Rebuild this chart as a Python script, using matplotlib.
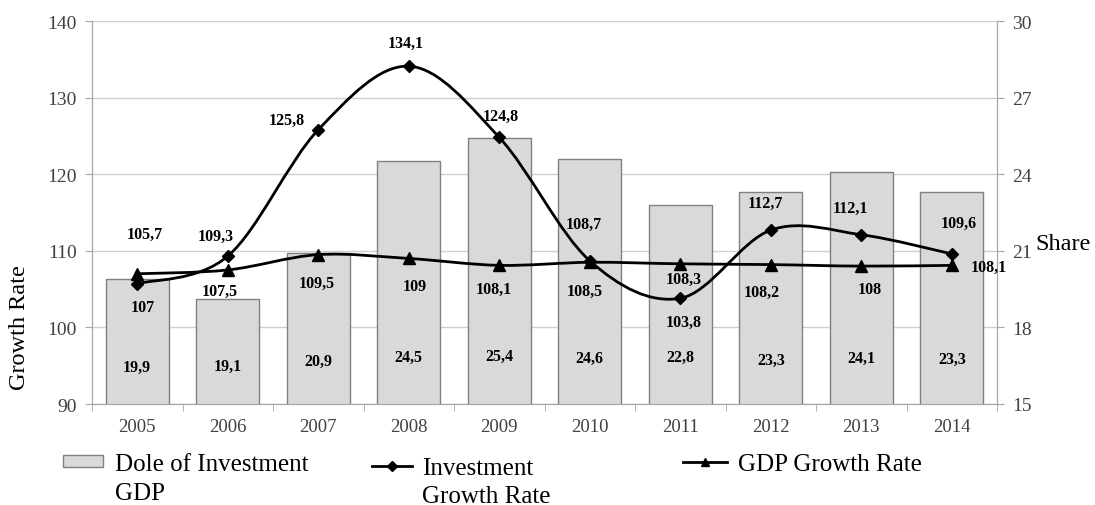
import matplotlib
matplotlib.use("Agg")
import matplotlib.pyplot as plt
from matplotlib.path import Path
from matplotlib.patches import PathPatch, Patch
from matplotlib.lines import Line2D
import numpy as np

years = ["2005", "2006", "2007", "2008", "2009", "2010", "2011", "2012", "2013", "2014"]
share = [19.9, 19.1, 20.9, 24.5, 25.4, 24.6, 22.8, 23.3, 24.1, 23.3]
invest = [105.7, 109.3, 125.8, 134.1, 124.8, 108.7, 103.8, 112.7, 112.1, 109.6]
gdp = [107.0, 107.5, 109.5, 109.0, 108.1, 108.5, 108.3, 108.2, 108.0, 108.1]

left_ticks = [90, 100, 110, 120, 130, 140]
right_ticks = [15, 18, 21, 24, 27, 30]

# label offsets in pixels (style only)
inv_off = [(8, 50), (-12, 20), (-31, 10), (-3, 23), (1, 22), (-6, 37), (3, -24), (-5, 27), (-11, 27), (7, 31)]
gdp_off = [(6, -33), (-8, -21), (-2, -28), (6, -28), (-5, -24), (-5, -29), (3, -15), (-9, -27), (8, -23), (37, -2)]
bar_lbl_off = [37, 38, 43, 47, 48, 46, 47, 44, 46, 45]

plt.rcParams['font.family'] = ['Liberation Serif', 'DejaVu Serif']

W, H = 1095, 506
fig = plt.figure(figsize=(W / 100, H / 100), dpi=100)
ax = fig.add_axes([92 / W, 1 - 405 / H, 905 / W, 383 / H])
axs = ax.twinx()
ax.set_zorder(axs.get_zorder() + 1)
ax.patch.set_visible(False)

x = np.arange(len(years))

# bars on share axis
axs.bar(x, share, width=0.7, color='#d9d9d9', edgecolor='#808080', linewidth=1.0, zorder=2)
axs.set_ylim(15, 30)
axs.set_yticks(right_ticks)
axs.set_yticklabels([str(t) for t in right_ticks])
axs.grid(axis='y', color='#cfcfcf', linewidth=1.0, zorder=0)
axs.set_axisbelow(True)


def smooth_path(xs, ys):
    pts = np.column_stack([xs, ys]).astype(float)
    n = len(pts)
    verts = [pts[0]]
    codes = [Path.MOVETO]
    for i in range(n - 1):
        p0 = pts[i - 1] if i > 0 else pts[i]
        p1 = pts[i]
        p2 = pts[i + 1]
        p3 = pts[i + 2] if i + 2 < n else pts[i + 1]
        c1 = p1 + (p2 - p0) / 6.0
        c2 = p2 - (p3 - p1) / 6.0
        verts += [c1, c2, p2]
        codes += [Path.CURVE4] * 3
    return Path(verts, codes)


ax.add_patch(PathPatch(smooth_path(x, invest), fill=False, edgecolor='black', linewidth=2.0, zorder=3))
ax.add_patch(PathPatch(smooth_path(x, gdp), fill=False, edgecolor='black', linewidth=2.0, zorder=3))
ax.plot(x, invest, linestyle='none', marker='D', markersize=6, color='black', zorder=4)
ax.plot(x, gdp, linestyle='none', marker='^', markersize=8, color='black', zorder=4)

ax.set_ylim(90, 140)
ax.set_xlim(-0.5, len(years) - 0.5)
ax.set_yticks(left_ticks)
ax.set_yticklabels([str(t) for t in left_ticks])
ax.set_xticks(x)
ax.set_xticklabels(years)
ax.set_xticks(np.arange(len(years) + 1) - 0.5, minor=True)


def fmt(v):
    s = ('%.1f' % v)
    if s.endswith('.0'):
        s = s[:-2]
    return s.replace('.', ',')


lbl = dict(ha='center', va='center', fontsize=11.5, fontweight='bold', zorder=5, textcoords='offset pixels')
for i in range(len(years)):
    ax.annotate(fmt(invest[i]), (x[i], invest[i]), xytext=inv_off[i], **lbl)
    ax.annotate(fmt(gdp[i]), (x[i], gdp[i]), xytext=gdp_off[i], **lbl)
    ax.annotate(fmt(share[i]), (x[i], 90), xytext=(0, bar_lbl_off[i]), **lbl)

for a in (ax, axs):
    for s in a.spines.values():
        s.set_color('#a6a6a6')
    a.spines['top'].set_visible(False)

ax.tick_params(axis='x', which='major', length=0, pad=10, labelsize=13.5, labelcolor='#404040')
ax.tick_params(axis='x', which='minor', length=5, color='#a6a6a6')
ax.tick_params(axis='y', length=5, color='#a6a6a6', labelsize=14, labelcolor='#404040', pad=6)
axs.tick_params(axis='y', length=5, color='#a6a6a6', labelsize=14, labelcolor='#404040', pad=6)

fig.text(20 / W, 1 - 328 / H, 'Growth Rate', rotation=90, ha='center', va='center', fontsize=17.5)
fig.text(1035 / W, 1 - 245 / H, 'Share', ha='left', va='center', fontsize=17.5)

# legend (first lines in legend entries, second lines as continuation text)
h1 = Patch(facecolor='#d9d9d9', edgecolor='#808080')
h2 = Line2D([], [], color='black', linewidth=2, marker='D', markersize=5)
h3 = Line2D([], [], color='black', linewidth=2, marker='^', markersize=6)
common = dict(frameon=False, fontsize=18, loc='center left', borderpad=0, borderaxespad=0)
fig.legend([h1], ['Dole of Investment'], bbox_to_anchor=(63 / W, 1 - 465 / H),
           handlelength=1.6, handleheight=0.4, handletextpad=0.48, **common)
fig.text(115 / W, 1 - 500 / H, 'GDP', ha='left', va='baseline', fontsize=18)
fig.legend([h2], ['Investment'], bbox_to_anchor=(372 / W, 1 - 469 / H),
           handlelength=1.6, handletextpad=0.4, **common)
fig.text(422 / W, 1 - 503 / H, 'Growth Rate', ha='left', va='baseline', fontsize=18)
fig.legend([h3], ['GDP Growth Rate'], bbox_to_anchor=(683 / W, 1 - 465 / H),
           handlelength=1.76, handletextpad=0.44, **common)

fig.savefig('out.png', dpi=100)
